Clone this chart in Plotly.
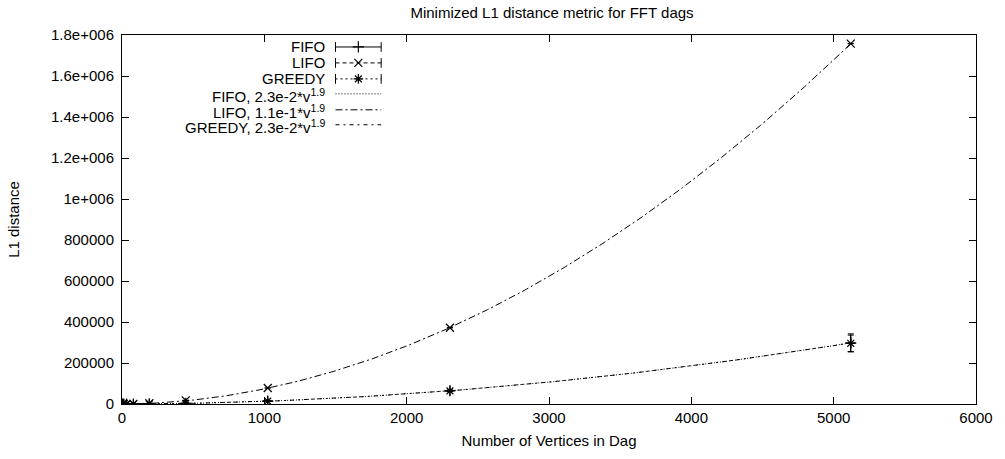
import numpy as np
import plotly.graph_objects as go

# ---------------- data ----------------
vertices = [4, 12, 32, 80, 192, 448, 1024, 2304, 5120]
fifo = [1, 4, 22, 120, 620, 3000, 14500, 65000, 298000]
fifo_err = [0, 0, 1, 5, 40, 200, 900, 3500, 44000]
lifo = [2, 17, 120, 680, 3500, 17500, 78000, 372000, 1758000]
lifo_err = [0, 0, 0, 0, 0, 0, 0, 0, 0]
greedy = [1, 4, 21, 118, 600, 2950, 14000, 64000, 296000]
greedy_err = [0, 0, 1, 4, 30, 150, 800, 3000, 40000]

# fitted power laws  c * v^p
fifo_fit = (2.3e-2, 1.9175)
lifo_fit = (1.1e-1, 1.942)
greedy_fit = (2.3e-2, 1.9175)

y_tickvals = [0, 200000, 400000, 600000, 800000, 1000000, 1200000, 1400000, 1600000, 1800000]
y_ticktext = ["0", "200000", "400000", "600000", "800000", "1e+006", "1.2e+006", "1.4e+006", "1.6e+006", "1.8e+006"]
x_tickvals = [0, 1000, 2000, 3000, 4000, 5000, 6000]

legend_labels = ["FIFO", "LIFO", "GREEDY",
                 "FIFO, 2.3e-2*v<sup>1.9</sup>",
                 "LIFO, 1.1e-1*v<sup>1.9</sup>",
                 "GREEDY, 2.3e-2*v<sup>1.9</sup>"]

FONT = "Liberation Sans, Arial, Helvetica, sans-serif"
BLACK = "black"

fig = go.Figure()

# fit curves
vgrid = np.linspace(0, vertices[-1], 300)
fit_styles = [(fifo_fit, "1px,2px"), (lifo_fit, "7px,3px,2px,3px"), (greedy_fit, "4px,4px,2px,4px")]
for (c, p), dash in fit_styles:
    fig.add_trace(go.Scatter(x=vgrid, y=c * vgrid ** p, mode="lines",
                             line=dict(color=BLACK, width=1, dash=dash),
                             showlegend=False, hoverinfo="skip"))

# data series with error bars
series = [(fifo, fifo_err, "cross-thin-open"),
          (lifo, lifo_err, "x-thin-open"),
          (greedy, greedy_err, "asterisk-open")]
for ys, errs, sym in series:
    fig.add_trace(go.Scatter(x=vertices, y=ys, mode="markers",
                             marker=dict(symbol=sym, size=8, color=BLACK,
                                         line=dict(color=BLACK, width=1.2)),
                             error_y=dict(type="data", array=errs, visible=True,
                                          color=BLACK, thickness=1, width=3),
                             showlegend=False))

# ---------------- custom gnuplot-style key (overlay pixel axes) ----------------
rows = [47, 63, 79, 94, 110, 125]
sx0, sx1, sxm = 337, 383, 360
text_right = 328
sample_dash = ["solid", "4px,3px", "2px,3px", "1px,2px", "7px,3px,2px,3px", "4px,4px,2px,4px"]
sample_sym = ["cross-thin-open", "x-thin-open", "asterisk-open", None, None, None]
for i, ry in enumerate(rows):
    fig.add_trace(go.Scatter(x=[sx0, sx1], y=[ry, ry], mode="lines", xaxis="x2", yaxis="y2",
                             line=dict(color=BLACK, width=1, dash=sample_dash[i]),
                             showlegend=False, hoverinfo="skip"))
    if sample_sym[i]:
        fig.add_trace(go.Scatter(x=[sxm], y=[ry], mode="markers", xaxis="x2", yaxis="y2",
                                 marker=dict(symbol=sample_sym[i], size=8, color=BLACK,
                                             line=dict(color=BLACK, width=1.2)),
                                 showlegend=False, hoverinfo="skip"))
        fig.add_trace(go.Scatter(x=[sx0, sx1], y=[ry, ry], mode="markers", xaxis="x2", yaxis="y2",
                                 marker=dict(symbol="line-ns-open", size=7, color=BLACK,
                                             line=dict(color=BLACK, width=1)),
                                 showlegend=False, hoverinfo="skip"))
    fig.add_annotation(x=text_right, y=ry + (2 if i >= 3 else 0), xref="x2", yref="y2",
                       text=legend_labels[i], showarrow=False,
                       xanchor="right", yanchor="middle",
                       font=dict(family=FONT, size=15, color=BLACK))

axis_common = dict(showgrid=False, zeroline=False, showline=True, linecolor=BLACK, linewidth=1,
                   mirror="ticks", ticks="inside", ticklen=7, tickcolor=BLACK, tickwidth=1,
                   tickfont=dict(family=FONT, size=15, color=BLACK))

fig.update_layout(
    width=1005, height=459,
    margin=dict(l=122, r=23, t=35, b=54),
    paper_bgcolor="white", plot_bgcolor="white",
    font=dict(family=FONT, size=15, color=BLACK),
    title=dict(text="Minimized L1 distance metric for FFT dags", x=552 / 1005, xanchor="center",
               y=1 - 13 / 459, yanchor="middle", font=dict(family=FONT, size=15, color=BLACK)),
    xaxis=dict(range=[0, 6000], tickvals=x_tickvals, ticktext=[str(v) for v in x_tickvals],
               title=dict(text="Number of Vertices in Dag", standoff=10,
                          font=dict(family=FONT, size=15, color=BLACK)),
               **axis_common),
    yaxis=dict(range=[0, 1800000], tickvals=y_tickvals, ticktext=y_ticktext,
               ticklabelstandoff=4,
               title=dict(text="L1 distance", standoff=27,
                          font=dict(family=FONT, size=15, color=BLACK)),
               **axis_common),
    xaxis2=dict(range=[122, 982], overlaying="x", anchor="y2", visible=False, fixedrange=True),
    yaxis2=dict(range=[405, 35], overlaying="y", anchor="x2", visible=False, fixedrange=True),
    showlegend=False,
)

fig.write_html("out.html")
